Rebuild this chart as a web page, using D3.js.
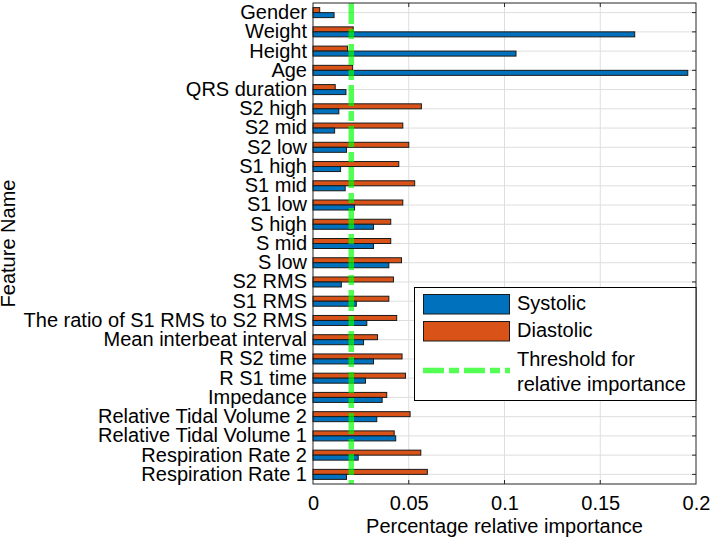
<!DOCTYPE html>
<html>
<head>
<meta charset="utf-8">
<script src="https://cdn.jsdelivr.net/npm/d3@7/dist/d3.min.js"></script>
<style>
  html, body { margin: 0; padding: 0; background: #fff; }
  svg { display: block; font-family: "Liberation Sans", Arial, sans-serif; }
</style>
</head>
<body>
<svg id="chart" width="710" height="538"></svg>
<script>
const categories = [
  "Gender", "Weight", "Height", "Age", "QRS duration",
  "S2 high", "S2 mid", "S2 low", "S1 high", "S1 mid", "S1 low",
  "S high", "S mid", "S low", "S2 RMS", "S1 RMS",
  "The ratio of S1 RMS to S2 RMS", "Mean interbeat interval",
  "R S2 time", "R S1 time", "Impedance",
  "Relative Tidal Volume 2", "Relative Tidal Volume 1",
  "Respiration Rate 2", "Respiration Rate 1"
];
const systolic = [
  0.011, 0.168, 0.106, 0.1957, 0.0172,
  0.0135, 0.0113, 0.0175, 0.0144, 0.0168, 0.0217,
  0.0316, 0.0316, 0.0396, 0.0148, 0.0226,
  0.0281, 0.0264,
  0.0316, 0.0274, 0.0361,
  0.0333, 0.0432,
  0.0236, 0.0175
];
const diastolic = [
  0.0035, 0.021, 0.018, 0.0207, 0.0116,
  0.0566, 0.0469, 0.050, 0.0448, 0.0531, 0.0469,
  0.0406, 0.0406, 0.0462, 0.042, 0.0396,
  0.0437, 0.0337,
  0.0465, 0.0483, 0.0385,
  0.0507, 0.0424,
  0.0563, 0.0597
];
const threshold = 0.02;
const xTicks = [0, 0.05, 0.1, 0.15, 0.2];
const xTickLabels = ["0", "0.05", "0.1", "0.15", "0.2"];
const seriesNames = ["Systolic", "Diastolic"];
const seriesColors = ["#0072BD", "#D95319"];
const thresholdLabel = ["Threshold for", "relative importance"];
const xLabel = "Percentage relative importance";
const yLabel = "Feature Name";

const svg = d3.select("#chart");
const L = 313, R = 696, T = 3, B = 484;
const FS = 20;

const x = d3.scaleLinear().domain([0, 0.2]).range([L, R]);
const y = d3.scaleBand().domain(categories).range([T, B]).padding(0);
const bw = y.bandwidth();
const barH = bw * 0.26;
// Diastolic above, Systolic below
const sub = d3.scaleBand().domain(["Diastolic", "Systolic"]).range([bw / 2 - barH, bw / 2 + barH]);

const g = svg.append("g");

// grid
g.append("g").selectAll("line.xg").data(xTicks.slice(1, -1)).join("line")
  .attr("x1", d => x(d)).attr("x2", d => x(d))
  .attr("y1", T).attr("y2", B)
  .attr("stroke", "#dedede").attr("stroke-width", 1);
g.append("g").selectAll("line.yg").data(categories).join("line")
  .attr("x1", L).attr("x2", R)
  .attr("y1", d => y(d) + bw / 2).attr("y2", d => y(d) + bw / 2)
  .attr("stroke", "#dedede").attr("stroke-width", 1);

// bars
const rows = categories.map((c, i) => ({c, Systolic: systolic[i], Diastolic: diastolic[i]}));
const barG = g.append("g");
[["Diastolic", seriesColors[1]], ["Systolic", seriesColors[0]]].forEach(([key, col]) => {
  barG.append("g").selectAll("rect").data(rows).join("rect")
    .attr("x", x(0))
    .attr("y", d => y(d.c) + sub(key))
    .attr("width", d => x(d[key]) - x(0))
    .attr("height", sub.bandwidth())
    .attr("fill", col)
    .attr("stroke", "#1a1a1a").attr("stroke-width", 1);
});

// threshold line
g.append("line")
  .attr("x1", x(threshold)).attr("x2", x(threshold))
  .attr("y1", T).attr("y2", B)
  .attr("stroke", "#00ff00").attr("stroke-opacity", 0.68)
  .attr("stroke-width", 5.5)
  .attr("stroke-dasharray", "21,5,10,5");

// axes box
const axColor = "#262626";
g.append("rect").attr("x", L).attr("y", T).attr("width", R - L).attr("height", B - T)
  .attr("fill", "none").attr("stroke", axColor).attr("stroke-width", 1);

// bottom axis
const xAxis = d3.axisBottom(x).tickValues(xTicks).tickFormat((d, i) => xTickLabels[i]).tickSize(0).tickPadding(12);
const xa = g.append("g").attr("transform", `translate(0,${B})`).call(xAxis);
xa.select(".domain").remove();
xa.selectAll("text").attr("font-size", FS).attr("fill", "#000").attr("font-family", "Liberation Sans, Arial, sans-serif");

// inward ticks top/bottom
const tl = 4;
g.append("g").selectAll("line").data(xTicks.slice(1, -1)).join("line")
  .attr("x1", d => x(d)).attr("x2", d => x(d)).attr("y1", B).attr("y2", B - tl)
  .attr("stroke", axColor);
g.append("g").selectAll("line").data(xTicks.slice(1, -1)).join("line")
  .attr("x1", d => x(d)).attr("x2", d => x(d)).attr("y1", T).attr("y2", T + tl)
  .attr("stroke", axColor);
// right side ticks
g.append("g").selectAll("line").data(categories).join("line")
  .attr("x1", R).attr("x2", R - tl)
  .attr("y1", d => y(d) + bw / 2).attr("y2", d => y(d) + bw / 2)
  .attr("stroke", axColor);

// left axis labels
const yAxis = d3.axisLeft(y).tickSize(0).tickPadding(6);
const ya = g.append("g").attr("transform", `translate(${L},0)`).call(yAxis);
ya.select(".domain").remove();
ya.selectAll("text").attr("font-size", FS).attr("fill", "#000").attr("font-family", "Liberation Sans, Arial, sans-serif");

// axis labels
svg.append("text").attr("x", (L + R) / 2).attr("y", 533)
  .attr("text-anchor", "middle").attr("font-size", FS).attr("fill", "#000")
  .text(xLabel);
svg.append("text").attr("transform", `translate(15,${(T + B) / 2}) rotate(-90)`)
  .attr("text-anchor", "middle").attr("font-size", FS).attr("fill", "#000")
  .text(yLabel);

// legend
const lg = svg.append("g");
lg.append("rect").attr("x", 414.5).attr("y", 287.5).attr("width", R - 414.5).attr("height", 113)
  .attr("fill", "#fff").attr("stroke", "#000").attr("stroke-width", 1);
const sw = [[294, seriesColors[0], seriesNames[0], 310], [321, seriesColors[1], seriesNames[1], 337]];
sw.forEach(([yy, col, name, base]) => {
  lg.append("rect").attr("x", 423.5).attr("y", yy + 0.5).attr("width", 86).attr("height", 19.5)
    .attr("fill", col).attr("stroke", "#1a1a1a").attr("stroke-width", 1);
  lg.append("text").attr("x", 517).attr("y", base).attr("font-size", FS).attr("fill", "#000").text(name);
});
lg.append("line").attr("x1", 423).attr("x2", 510).attr("y1", 370.5).attr("y2", 370.5)
  .attr("stroke", "#00ff00").attr("stroke-opacity", 0.68).attr("stroke-width", 5.5)
  .attr("stroke-dasharray", "21,5,10,5");
lg.append("text").attr("x", 517).attr("y", 366).attr("font-size", FS).attr("fill", "#000").text(thresholdLabel[0]);
lg.append("text").attr("x", 517).attr("y", 390.5).attr("font-size", FS).attr("fill", "#000").text(thresholdLabel[1]);
</script>
</body>
</html>
